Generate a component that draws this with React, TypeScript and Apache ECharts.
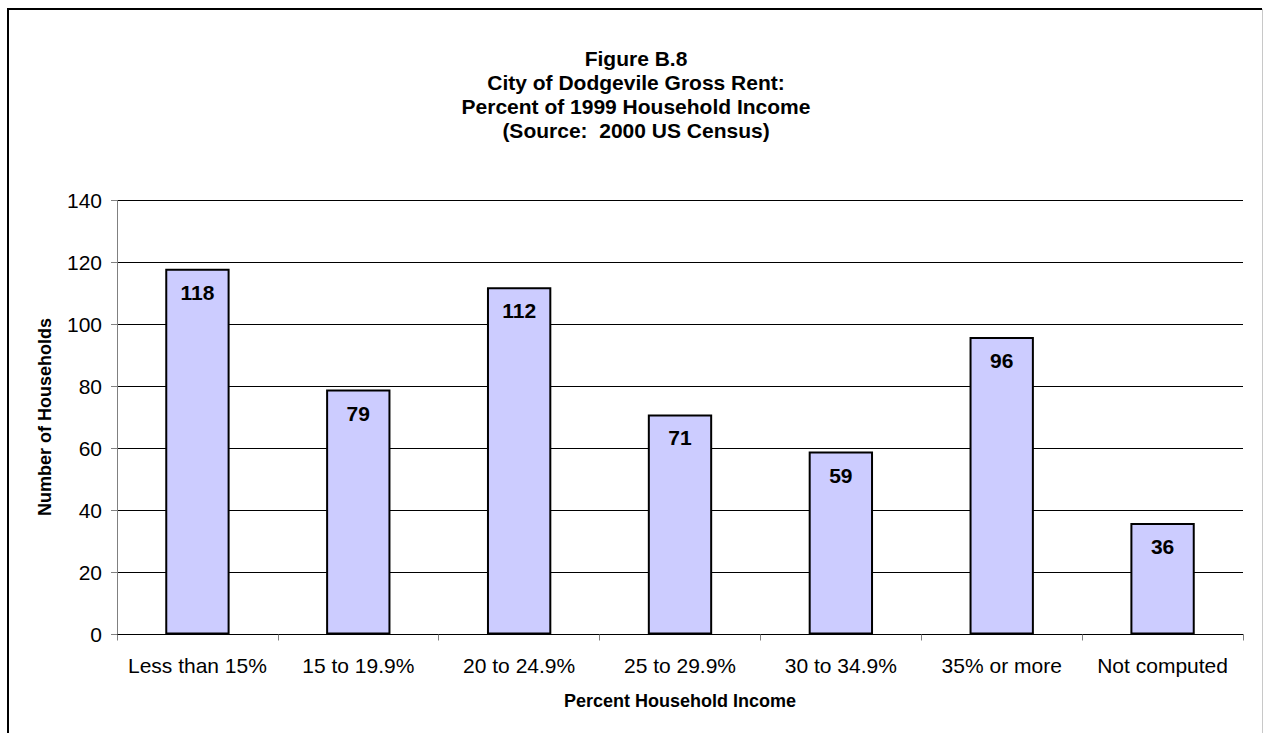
import React, { useEffect, useRef } from "react";
import * as echarts from "echarts";

const categories = ["Less than 15%", "15 to 19.9%", "20 to 24.9%", "25 to 29.9%", "30 to 34.9%", "35% or more", "Not computed"];
const households = [118, 79, 112, 71, 59, 96, 36];
const titleLines = ["Figure B.8", "City of Dodgevile Gross Rent:", "Percent of 1999 Household Income", "(Source:  2000 US Census)"];
const xAxisName = "Percent Household Income";
const yAxisName = "Number of Households";

const FONT = "Liberation Sans, Arial, Helvetica, sans-serif";

export default function App() {
  const ref = useRef<HTMLDivElement>(null);
  useEffect(() => {
    if (!ref.current) return;
    const chart = echarts.init(ref.current, null, { renderer: "svg" });
    chart.setOption({
      animation: false,
      backgroundColor: "#ffffff",
      textStyle: { fontFamily: FONT },
      grid: { left: 117, right: 21, top: 200.5, bottom: 98.5, containLabel: false },
      xAxis: {
        type: "category",
        data: categories,
        boundaryGap: true,
        axisLine: { show: true, lineStyle: { color: "#000000", width: 1 } },
        axisTick: { show: true, length: 6, alignWithLabel: false, lineStyle: { color: "#808080" } },
        axisLabel: { color: "#000000", fontSize: 21, fontFamily: FONT, margin: 20, interval: 0 },
        splitLine: { show: false },
      },
      yAxis: {
        type: "value",
        min: 0,
        max: 140,
        interval: 20,
        axisLine: { show: true, lineStyle: { color: "#808080", width: 1 } },
        axisTick: { show: true, length: 6, lineStyle: { color: "#808080" } },
        axisLabel: { color: "#000000", fontSize: 21, fontFamily: FONT, margin: 15 },
        splitLine: { show: true, lineStyle: { color: "#000000", width: 1 } },
      },
      series: [
        {
          type: "bar",
          data: households,
          barWidth: "40%",
          itemStyle: { color: "#ccccff", borderColor: "#000000", borderWidth: 2 },
          label: {
            show: true,
            position: "insideTop",
            distance: 13,
            color: "#000000",
            fontWeight: "bold",
            fontSize: 21,
            fontFamily: FONT,
          },
        },
      ],
      graphic: [
        { type: "line", shape: { x1: 8, y1: 9, x2: 1262, y2: 9 }, style: { stroke: "#000000", lineWidth: 2 } },
        { type: "line", shape: { x1: 8, y1: 8, x2: 8, y2: 733 }, style: { stroke: "#000000", lineWidth: 2 } },
        { type: "line", shape: { x1: 1262.5, y1: 9, x2: 1262.5, y2: 733 }, style: { stroke: "#c8c8c8", lineWidth: 1 } },
        {
          type: "text",
          x: 636,
          y: 46,
          style: {
            text: titleLines.join("\n"),
            align: "center",
            verticalAlign: "top",
            fontSize: 21,
            lineHeight: 24,
            fontWeight: "bold",
            fontFamily: FONT,
            fill: "#000000",
          },
        },
        {
          type: "text",
          x: 680,
          y: 701,
          style: {
            text: xAxisName,
            align: "center",
            verticalAlign: "middle",
            fontSize: 18,
            fontWeight: "bold",
            fontFamily: FONT,
            fill: "#000000",
          },
        },
        {
          type: "text",
          x: 45,
          y: 417,
          rotation: Math.PI / 2,
          style: {
            text: yAxisName,
            align: "center",
            verticalAlign: "middle",
            fontSize: 18,
            fontWeight: "bold",
            fontFamily: FONT,
            fill: "#000000",
          },
        },
      ],
    });
    return () => chart.dispose();
  }, []);
  return (
    <div
      ref={ref}
      style={{ position: "fixed", left: 0, top: 0, width: 1264, height: 733, background: "#fff" }}
    />
  );
}
